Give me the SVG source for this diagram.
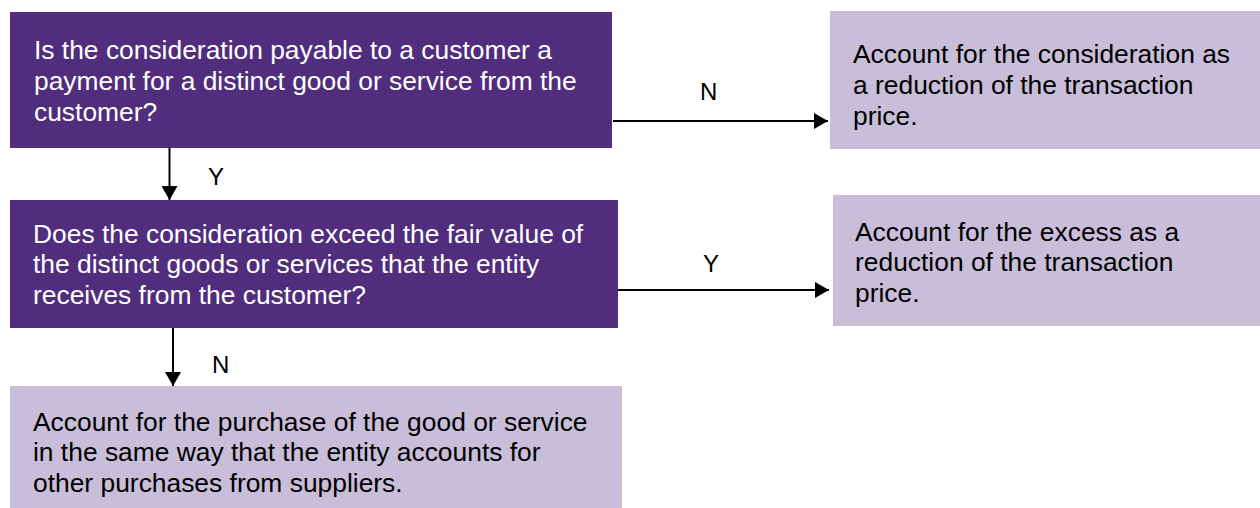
<svg xmlns="http://www.w3.org/2000/svg" width="1260" height="508" viewBox="0 0 1260 508">
<style>
.dark{fill:#512D7D}
.light{fill:#C8BEDA}
.tw{fill:#FFFFFF;font-family:"Liberation Sans",Arial,sans-serif;font-size:26.4px}
.tb{fill:#000000;font-family:"Liberation Sans",Arial,sans-serif;font-size:26.4px}
.lbl{fill:#000000;font-family:"Liberation Sans",Arial,sans-serif;font-size:24px}
.conn{stroke:#000;stroke-width:2;fill:none;marker-end:url(#ah)}
</style>
<defs>
<marker id="ah" markerUnits="userSpaceOnUse" markerWidth="16" markerHeight="16" viewBox="0 0 14 16" refX="14" refY="8" orient="auto">
<path d="M0,0 L14,8 L0,16 Z" fill="#000"/>
</marker>
</defs>
<rect width="1260" height="508" fill="#FFFFFF"/>
<g id="q1">
<rect class="dark" x="10" y="12" width="602" height="136"/>
<text class="tw" x="34" y="59">Is the consideration payable to a customer a</text>
<text class="tw" x="34" y="90">payment for a distinct good or service from the</text>
<text class="tw" x="34" y="121">customer?</text>
</g>
<g id="r1">
<rect class="light" x="830" y="11" width="430" height="138"/>
<text class="tb" x="853" y="63">Account for the consideration as</text>
<text class="tb" x="853" y="94">a reduction of the transaction</text>
<text class="tb" x="853" y="125">price.</text>
</g>
<g id="q2">
<rect class="dark" x="10" y="200" width="608" height="128"/>
<text class="tw" x="33" y="243">Does the consideration exceed the fair value of</text>
<text class="tw" x="33" y="273">the distinct goods or services that the entity</text>
<text class="tw" x="33" y="304">receives from the customer?</text>
</g>
<g id="r2">
<rect class="light" x="833" y="195" width="427" height="131"/>
<text class="tb" x="855" y="241">Account for the excess as a</text>
<text class="tb" x="855" y="271">reduction of the transaction</text>
<text class="tb" x="855" y="302">price.</text>
</g>
<g id="r3">
<rect class="light" x="10" y="386" width="612" height="122"/>
<text class="tb" x="33" y="431">Account for the purchase of the good or service</text>
<text class="tb" x="33" y="461">in the same way that the entity accounts for</text>
<text class="tb" x="33" y="492">other purchases from suppliers.</text>
</g>
<g id="connectors">
<line class="conn" x1="613" y1="121" x2="828" y2="121"/>
<line class="conn" x1="169.5" y1="148" x2="169.5" y2="200"/>
<line class="conn" x1="618" y1="290" x2="829" y2="290"/>
<line class="conn" x1="173" y1="328" x2="173" y2="386"/>
<text class="lbl" x="700" y="100">N</text>
<text class="lbl" x="208" y="185">Y</text>
<text class="lbl" x="703" y="272">Y</text>
<text class="lbl" x="212" y="373">N</text>
</g>
</svg>
